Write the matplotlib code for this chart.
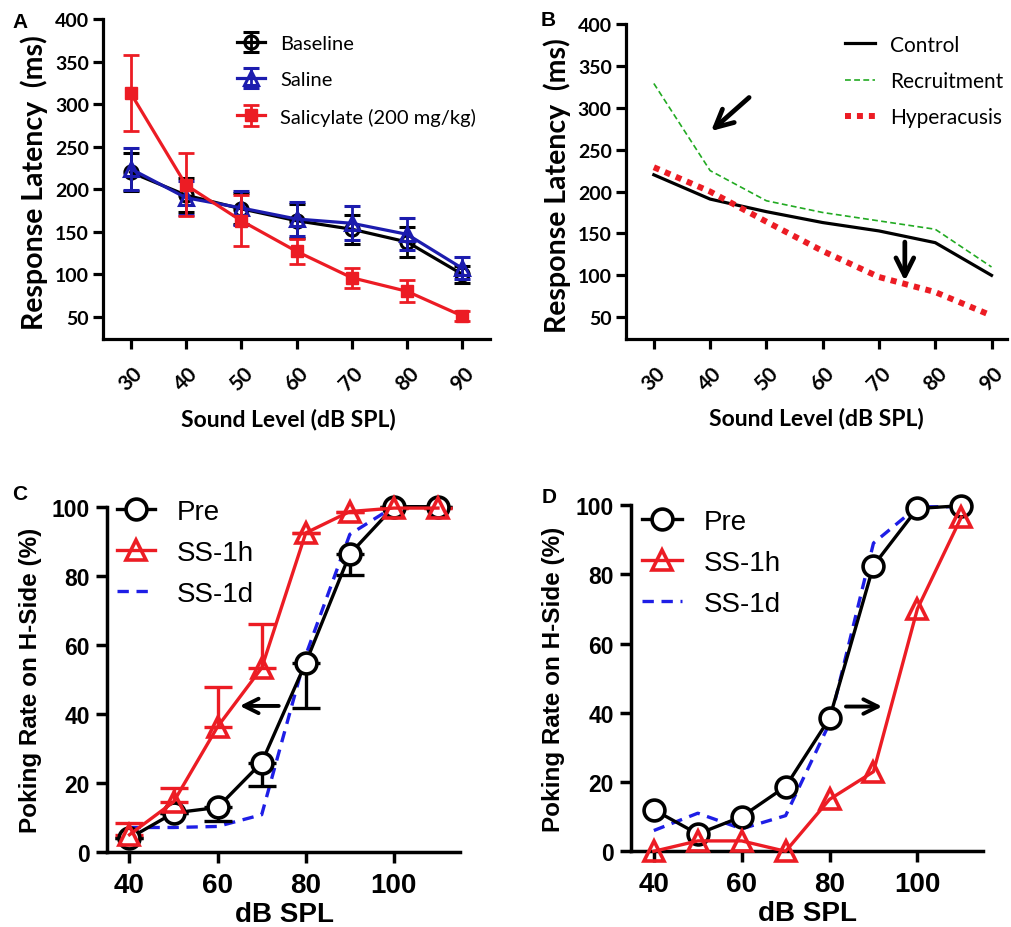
import matplotlib
matplotlib.use("Agg")
import matplotlib.pyplot as plt
from matplotlib import font_manager
import numpy as np

# ---------------- data ----------------
# Panel A
levels_ab = [30, 40, 50, 60, 70, 80, 90]
baseline = [220, 193, 177, 163, 153, 138, 100]
baseline_err = [22, 20, 18, 20, 17, 18, 10]
saline = [224, 190, 178, 165, 160, 147, 107]
saline_err = [25, 20, 20, 20, 20, 19, 13]
salicylate = [313, 205, 163, 127, 96, 80, 51]
salicylate_err = [45, 37, 30, 15, 12, 13, 6]

# Panel B
control = [220, 191, 176, 163, 153, 139, 100]
recruitment = [329, 225, 189, 175, 165, 155, 110]
hyperacusis = [229, 200, 164, 129, 98, 80, 52]

# Panel C
levels_cd = [40, 50, 60, 70, 80, 90, 100, 110]
c_pre = [4, 11.3, 12.9, 25.9, 54.8, 86.3, 100, 100]
c_pre_err_low = [0, 0, 4, 6.7, 13, 6, 0, 0]
c_ss1h = [5, 14.5, 36.3, 53.3, 92.4, 98.6, 99.6, 99.6]
c_ss1h_err_up = [3.4, 4, 11.5, 12.8, 0, 0, 0, 0]
c_ss1d = [7.1, 7.1, 7.4, 10.8, 57, 92, 100, 100]

# Panel D
d_pre = [12, 5, 10, 18.7, 38.4, 82.5, 99, 99.8]
d_ss1h = [0, 3, 3, 0, 15, 23, 70, 96.5]
d_ss1d = [6, 11, 6.5, 10.3, 37, 89, 99.5, 99.5]

# ---------------- style ----------------
names = {f.name for f in font_manager.fontManager.ttflist}
CAL = "Lato" if "Lato" in names else "DejaVu Sans"
ARI = "Liberation Sans" if "Liberation Sans" in names else "DejaVu Sans"

RED = "#ec1c24"
BLUE_A = "#1c1cae"
BLUE = "#1e1ee6"
GREEN = "#22aa22"

W, H = 1011, 928
fig = plt.figure(figsize=(W / 100, H / 100), dpi=100)


def rect(l, t, r, b):
    return [l / W, 1 - b / H, (r - l) / W, (b - t) / H]


axA = fig.add_axes(rect(103, 20, 490, 340))
axB = fig.add_axes(rect(625.7, 25, 1006.7, 340))
axC = fig.add_axes(rect(107, 507.7, 460, 853))
axD = fig.add_axes(rect(631, 506, 983.3, 852.3))


def style_axes(ax, lw, font, xsize, ysize, tlen, tpad):
    for s in ("top", "right"):
        ax.spines[s].set_visible(False)
    for s in ("left", "bottom"):
        ax.spines[s].set_linewidth(lw)
    ax.tick_params(axis="both", direction="out", length=tlen, width=lw, pad=tpad)
    for lab in ax.get_xticklabels():
        lab.set_fontfamily(font)
        lab.set_fontweight("bold")
        lab.set_fontsize(xsize)
    for lab in ax.get_yticklabels():
        lab.set_fontfamily(font)
        lab.set_fontweight("bold")
        lab.set_fontsize(ysize)


# ---------------- Panel A ----------------
ax = axA
ax.errorbar(levels_ab, baseline, yerr=baseline_err, color="black", lw=2.3,
            marker="o", ms=9.5, mfc="none", mec="black", mew=2.2,
            elinewidth=2.0, capsize=6, capthick=2.0, label="Baseline", zorder=3)
ax.errorbar(levels_ab, saline, yerr=saline_err, color=BLUE_A, lw=2.3,
            marker="^", ms=9.5, mfc="none", mec=BLUE_A, mew=2.2,
            elinewidth=2.0, capsize=6, capthick=2.0, label="Saline", zorder=4)
ax.errorbar(levels_ab, salicylate, yerr=salicylate_err, color=RED, lw=2.3,
            marker="s", ms=9, mfc=RED, mec=RED,
            elinewidth=2.0, capsize=6, capthick=2.0, label="Salicylate (200 mg/kg)", zorder=5)
ax.set_xlim(25, 95)
ax.set_ylim(24, 400)
ax.set_xticks(levels_ab)
ax.set_yticks(np.arange(50, 401, 50))
style_axes(ax, 2.3, CAL, 15, 14, 7, 3)
for lab in ax.get_xticklabels():
    lab.set_rotation(45)
    lab.set_ha("center")
ax.tick_params(axis="x", length=7, pad=10)
ax.set_ylabel("Response Latency  (ms)", fontfamily=CAL, fontweight="bold", fontsize=20.5)
ax.yaxis.set_label_coords(-0.178, 0.492)
ax.yaxis.label.set_va("center")
ax.set_xlabel("Sound Level (dB SPL)", fontfamily=CAL, fontweight="bold", fontsize=16.5)
ax.xaxis.set_label_coords(0.48, -0.25)
ax.xaxis.label.set_va("center")
ax.legend(loc="upper left", bbox_to_anchor=(0.346, 0.95), frameon=False,
          borderpad=0, borderaxespad=0, handlelength=1.4, handletextpad=0.75,
          labelspacing=0.95, prop={"family": CAL, "size": 14.5})

# ---------------- Panel B ----------------
ax = axB
ax.plot(levels_ab, control, color="black", lw=2.3, label="Control", zorder=3)
ax.plot(levels_ab, recruitment, color=GREEN, lw=1.2, ls=(0, (3.5, 2)), label="Recruitment", zorder=3)
ax.plot(levels_ab, hyperacusis, color=RED, lw=4.3, ls=(0, (1, 1)), label="Hyperacusis", zorder=4)
ax.set_xlim(25, 92.7)
ax.set_ylim(24, 400)
ax.set_xticks(levels_ab)
ax.set_yticks(np.arange(50, 401, 50))
style_axes(ax, 2.3, CAL, 15, 14, 7, 3)
for lab in ax.get_xticklabels():
    lab.set_rotation(45)
    lab.set_ha("center")
ax.tick_params(axis="x", length=7, pad=10)
ax.set_ylabel("Response Latency  (ms)", fontfamily=CAL, fontweight="bold", fontsize=20.5)
ax.yaxis.set_label_coords(-0.18, 0.49)
ax.yaxis.label.set_va("center")
ax.set_xlabel("Sound Level (dB SPL)", fontfamily=CAL, fontweight="bold", fontsize=16.5)
ax.xaxis.set_label_coords(0.5, -0.248)
ax.xaxis.label.set_va("center")
ax.annotate("", xy=(39.8, 270), xytext=(47.3, 314.5),
            arrowprops=dict(arrowstyle="->", lw=3.4, color="black", mutation_scale=32))
ax.annotate("", xy=(74.6, 90), xytext=(74.6, 143),
            arrowprops=dict(arrowstyle="->", lw=3.4, color="black", mutation_scale=32))
ax.legend(loc="upper left", bbox_to_anchor=(0.576, 0.966), frameon=False,
          borderpad=0, borderaxespad=0, handlelength=1.44, handletextpad=0.72,
          labelspacing=0.78, prop={"family": CAL, "size": 15})


# ---------------- Panels C / D ----------------
def draw_cd(ax, pre, ss1h, ss1d, pre_err=None, ss1h_err=None):
    ax.plot(levels_cd, ss1d, color=BLUE, lw=2.4, ls=(0, (3.4, 2.3)), label="SS-1d", zorder=2,
            clip_on=False)
    if pre_err is not None:
        ax.errorbar(levels_cd, pre, yerr=[pre_err, [0] * len(pre)], fmt="none",
                    ecolor="black", elinewidth=2.4, capsize=10, capthick=2.4, zorder=3,
                    clip_on=False)
    if ss1h_err is not None:
        ax.errorbar(levels_cd, ss1h, yerr=[[0] * len(ss1h), ss1h_err], fmt="none",
                    ecolor=RED, elinewidth=2.4, capsize=10, capthick=2.4, zorder=3,
                    clip_on=False)
    ax.plot(levels_cd, pre, color="black", lw=2.4, marker="o", ms=15, mfc="white",
            mec="black", mew=2.6, label="Pre", zorder=4, clip_on=False)
    ax.plot(levels_cd, ss1h, color=RED, lw=2.4, marker="^", ms=15, mfc="none",
            mec=RED, mew=2.6, label="SS-1h", zorder=5, clip_on=False)
    ax.set_ylim(0, 100)
    ax.set_xticks([40, 60, 80, 100])
    ax.set_yticks([0, 20, 40, 60, 80, 100])
    style_axes(ax, 2.5, ARI, 20, 16.5, 8, 4.5)
    ax.tick_params(axis="x", pad=6.5)
    ax.set_ylabel("Poking Rate on H-Side (%)", fontfamily=ARI, fontweight="bold", fontsize=17.5)
    ax.yaxis.label.set_va("center")
    ax.set_xlabel("dB SPL", fontfamily=ARI, fontweight="bold", fontsize=20)
    ax.xaxis.label.set_va("center")


draw_cd(axC, c_pre, c_ss1h, c_ss1d, c_pre_err_low, c_ss1h_err_up)
axC.set_xlim(34.9, 115)
axC.yaxis.set_label_coords(-0.218, 0.5)
axC.xaxis.set_label_coords(0.504, -0.181)
axC.annotate("", xy=(64.4, 42.3), xytext=(74.5, 42.3),
             arrowprops=dict(arrowstyle="->", lw=2.8, color="black", mutation_scale=26))

draw_cd(axD, d_pre, d_ss1h, d_ss1d)
axD.set_xlim(34.8, 115)
axD.yaxis.set_label_coords(-0.221, 0.5)
axD.xaxis.set_label_coords(0.502, -0.178)
axD.annotate("", xy=(92.6, 41.8), xytext=(83.1, 41.8),
             arrowprops=dict(arrowstyle="->", lw=2.8, color="black", mutation_scale=26))

for ax, (x, y), hl in ((axC, (0.028, 1.022), 1.37), (axD, (0.031, 0.988), 1.44)):
    h, l = ax.get_legend_handles_labels()
    order = [l.index("Pre"), l.index("SS-1h"), l.index("SS-1d")]
    ax.legend([h[i] for i in order], [l[i] for i in order], loc="upper left",
              bbox_to_anchor=(x, y), frameon=False, borderpad=0, borderaxespad=0,
              handlelength=hl, handletextpad=0.79, labelspacing=0.54,
              prop={"family": ARI, "size": 20})

# panel letters
for letter, (px, py) in (("A", (12, 13)), ("B", (541, 11)), ("C", (12, 485)), ("D", (542, 488))):
    fig.text(px / W, 1 - py / H, letter, fontfamily=ARI, fontweight="bold", fontsize=15,
             ha="left", va="top")

fig.savefig("out.png", dpi=100)
